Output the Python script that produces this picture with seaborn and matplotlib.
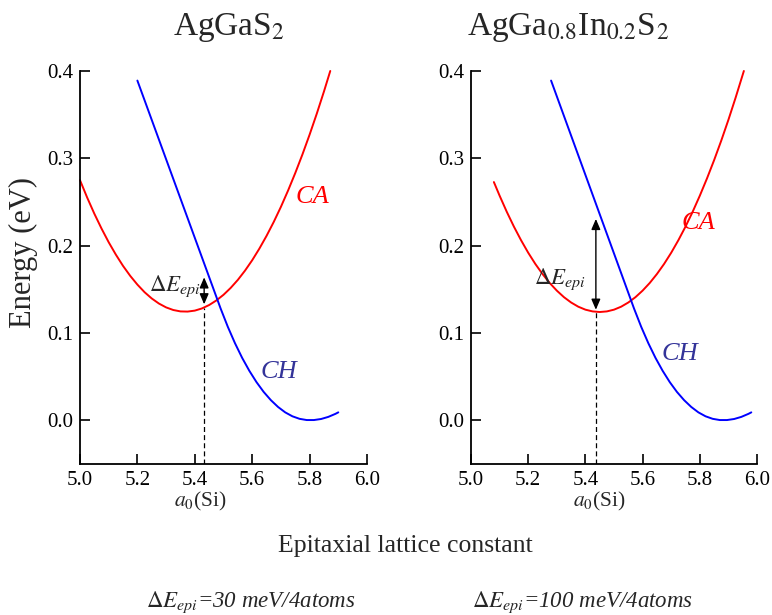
import matplotlib
matplotlib.use("Agg")
import matplotlib.pyplot as plt
import seaborn as sns

# ---------------- data ----------------
# AgGaS2 panel
ca1_x = [5.00, 5.025, 5.05, 5.075, 5.10, 5.125, 5.15, 5.175, 5.20, 5.225,
         5.25, 5.275, 5.30, 5.325, 5.35, 5.375, 5.40, 5.425, 5.45, 5.475,
         5.50, 5.525, 5.55, 5.575, 5.60, 5.625, 5.65, 5.675, 5.70, 5.725,
         5.75, 5.775, 5.80, 5.825, 5.85, 5.872]
ca1_y = [0.2750, 0.2551, 0.2366, 0.2196, 0.2039, 0.1897, 0.1768, 0.1654,
         0.1554, 0.1467, 0.1395, 0.1337, 0.1293, 0.1263, 0.1247, 0.1245,
         0.1256, 0.1281, 0.1320, 0.1372, 0.1437, 0.1516, 0.1608, 0.1714,
         0.1833, 0.1966, 0.2112, 0.2271, 0.2444, 0.2631, 0.2831, 0.3044,
         0.3271, 0.3511, 0.3765, 0.4000]
ch1_x = [5.20, 5.25, 5.30, 5.35, 5.40, 5.45, 5.49, 5.515, 5.54, 5.565, 5.59,
         5.615, 5.64, 5.665, 5.69, 5.715, 5.74, 5.765, 5.79, 5.815, 5.84,
         5.865, 5.89, 5.90]
ch1_y = [0.389, 0.344, 0.299, 0.254, 0.209, 0.164, 0.1280, 0.1071, 0.0883,
         0.0715, 0.0567, 0.0437, 0.0325, 0.0231, 0.0153, 0.0091, 0.0046,
         0.0017, 0.0003, 0.0003, 0.0015, 0.0039, 0.0074, 0.0091]

# AgGa0.8In0.2S2 panel
ca2_x = [5.08, 5.10, 5.125, 5.15, 5.175, 5.20, 5.225, 5.25, 5.275, 5.30,
         5.325, 5.35, 5.375, 5.40, 5.425, 5.45, 5.475, 5.50, 5.525, 5.55,
         5.575, 5.60, 5.625, 5.65, 5.675, 5.70, 5.725, 5.75, 5.775, 5.80,
         5.825, 5.85, 5.875, 5.90, 5.925, 5.954]
ca2_y = [0.2728, 0.2572, 0.2388, 0.2218, 0.2062, 0.1919, 0.1790, 0.1675,
         0.1573, 0.1485, 0.1410, 0.1349, 0.1301, 0.1267, 0.1247, 0.1240,
         0.1247, 0.1267, 0.1301, 0.1349, 0.1410, 0.1485, 0.1573, 0.1675,
         0.1790, 0.1919, 0.2062, 0.2218, 0.2388, 0.2572, 0.2769, 0.2979,
         0.3203, 0.3441, 0.3693, 0.4000]
ch2_x = [5.28, 5.33, 5.38, 5.43, 5.48, 5.53, 5.57, 5.595, 5.62, 5.645, 5.67,
         5.695, 5.72, 5.745, 5.77, 5.795, 5.82, 5.845, 5.87, 5.895, 5.92,
         5.945, 5.97, 5.98]
ch2_y = [0.389, 0.344, 0.299, 0.254, 0.209, 0.164, 0.1280, 0.1071, 0.0883,
         0.0715, 0.0567, 0.0437, 0.0325, 0.0231, 0.0153, 0.0091, 0.0046,
         0.0017, 0.0003, 0.0003, 0.0015, 0.0039, 0.0074, 0.0091]

# epitaxial point a0(Si): (x, arrow low, arrow high, dashed-line top)
epi1 = (5.4326, 0.1328, 0.1637, 0.129)
epi2 = (5.4366, 0.1266, 0.2306, 0.124)

xticks = [5.0, 5.2, 5.4, 5.6, 5.8, 6.0]
yticks = [0.0, 0.1, 0.2, 0.3, 0.4]
xlabels = ["5.0", "5.2", "5.4", "5.6", "5.8", "6.0"]
ylabels = ["0.0", "0.1", "0.2", "0.3", "0.4"]

titles = [r"AgGaS$_2$", r"AgGa$_{0.8}$In$_{0.2}$S$_2$"]
notes = [r"$\Delta E_{epi}$=30 meV/4atoms",
         r"$\Delta E_{epi}$=100 meV/4atoms"]

# ---------------- style ----------------
sns.set_style("ticks")
plt.rcParams["font.family"] = ["Liberation Serif", "DejaVu Serif"]
plt.rcParams["mathtext.fontset"] = "stix"

RED = "#ff0000"
BLUE = "#0000ff"
CHTXT = "#333399"

fig = plt.figure(figsize=(7.72, 6.15), dpi=100)
ax1 = fig.add_axes([0.1036, 0.245, 0.3718, 0.6396])
ax2 = fig.add_axes([0.6101, 0.245, 0.3705, 0.6396])

panels = [
    (ax1, ca1_x, ca1_y, ch1_x, ch1_y, epi1),
    (ax2, ca2_x, ca2_y, ch2_x, ch2_y, epi2),
]

for ax, cx, cy, hx, hy, epi in panels:
    sns.lineplot(x=cx, y=cy, ax=ax, color=RED, linewidth=1.4,
                 estimator=None, sort=False)
    sns.lineplot(x=hx, y=hy, ax=ax, color=BLUE, linewidth=1.4,
                 estimator=None, sort=False)
    for ln in ax.lines:
        ln.set_clip_on(False)
        ln.set_solid_joinstyle("round")
    ax.set_xlim(5.0, 6.0)
    ax.set_ylim(-0.0504, 0.4)
    ax.set_xticks(xticks)
    ax.set_xticklabels(xlabels)
    ax.set_yticks(yticks)
    ax.set_yticklabels(ylabels)
    ax.set_xlabel("")
    ax.set_ylabel("")
    sns.despine(ax=ax)
    for s in ("left", "bottom"):
        ax.spines[s].set_linewidth(1.3)
        ax.spines[s].set_color("black")
    ax.tick_params(direction="in", length=7, width=1.2, labelsize=15,
                   pad=5, colors="black")
    # dashed line at a0(Si)
    ax.vlines(epi[0], -0.0504, epi[3], colors="black", linewidth=0.9,
              linestyles=(0, (4, 2.5)))
    # Delta E arrow
    ax.annotate("", xy=(epi[0], epi[2]), xytext=(epi[0], epi[1]),
                arrowprops=dict(arrowstyle="<|-|>,head_length=0.7,head_width=0.3",
                                color="black", lw=1.0, shrinkA=0, shrinkB=0,
                                mutation_scale=9))

# curve labels
ax1.text(5.75, 0.256, "CA", color=RED, style="italic", fontsize=19,
         ha="left", va="center")
ax1.text(5.628, 0.0557, "CH", color=CHTXT, style="italic", fontsize=19,
         ha="left", va="center")
ax2.text(5.736, 0.226, "CA", color=RED, style="italic", fontsize=19,
         ha="left", va="center")
ax2.text(5.666, 0.076, "CH", color=CHTXT, style="italic", fontsize=19,
         ha="left", va="center")

# Delta E labels
ax1.text(5.42, 0.153, r"$\Delta E_{epi}$", fontsize=16.5, ha="right", va="center")
ax2.text(5.40, 0.161, r"$\Delta E_{epi}$", fontsize=16.5, ha="right", va="center")

# a0(Si) labels
ax1.text(0.42, -0.095, r"$a_{\mathit{0}}$(Si)", transform=ax1.transAxes,
         fontsize=15.5, ha="center", va="center")
ax2.text(0.45, -0.095, r"$a_{\mathit{0}}$(Si)", transform=ax2.transAxes,
         fontsize=15.5, ha="center", va="center")

# titles
fig.text(173 / 772, 1 - 35 / 615, titles[0], fontsize=24, ha="left", va="baseline")
fig.text(467 / 772, 1 - 35 / 615, titles[1], fontsize=24, ha="left", va="baseline")

# shared labels
fig.text(0.031, 0.59, "Energy (eV)", rotation=90, fontsize=22,
         ha="center", va="center")
fig.text(0.525, 0.102, "Epitaxial lattice constant", fontsize=18.5,
         ha="center", va="baseline")

# bottom notes
fig.text(0.325, 0.013, notes[0], fontsize=16.5, style="italic",
         ha="center", va="baseline")
fig.text(0.755, 0.013, notes[1], fontsize=16.5, style="italic",
         ha="center", va="baseline")

fig.savefig("out.png", dpi=100)
